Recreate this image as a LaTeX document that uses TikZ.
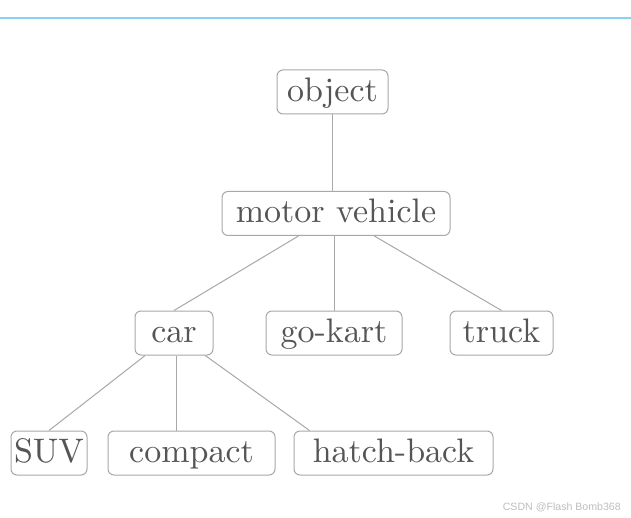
\documentclass[tikz,border=0pt]{standalone}
\usepackage{fontspec}
\newfontfamily\marksans{Liberation Sans}
\newfontfamily\boxfont{lmroman10-regular.otf}
\usetikzlibrary{calc}
\definecolor{boxgray}{HTML}{A8A8A8}
\definecolor{textgray}{HTML}{555555}
\definecolor{rulecyan}{HTML}{87D3F2}
\definecolor{markgray}{HTML}{BDBDBD}

\begin{document}
\begin{tikzpicture}[
  x=1pt, y=-1pt,
  box/.style={rectangle, rounded corners=6pt, draw=boxgray, line width=1pt,
              minimum height=44pt, inner sep=0pt, text=textgray,
              text height=25pt, text depth=6pt,
              font=\boxfont\fontsize{34}{40}\selectfont},
  link/.style={draw=boxgray, line width=1pt}
]
  \useasboundingbox (0,0) rectangle (631,518);
  \draw[rulecyan, line width=2pt] (0,18.5) -- (631,18.5);

  % levels of the hierarchy
  \node[box, minimum width=111pt] (obj) at (332.5,92) {object};
  \node[box, minimum width=228pt] (mv) at (336,213.5) {motor vehicle};
  \node[box, minimum width=78pt] (car) at (174,333) {car};
  \node[box, minimum width=136pt] (kart) at (334,333) {go-kart};
  \node[box, minimum width=103pt] (truck) at (501.5,333) {truck};
  \node[box, minimum width=76pt] (suv) at (49,453) {SUV};
  \node[box, minimum width=167pt] (compact) at (191.5,453) {compact};
  \node[box, minimum width=199pt] (hatch) at (393.5,453) {hatch-back};
  \coordinate (cpt) at ($(compact.north west)+(69pt,0)$);

  \draw[link] (obj) -- (obj |- mv.north);
  \draw[link] (mv) -- (car.north);
  \draw[link] (kart.north |- mv.south) -- (kart.north);
  \draw[link] (mv) -- (truck.north);
  \draw[link] (car) -- (suv.north);
  \draw[link] (car.south -| cpt) -- (cpt);
  \draw[link] (car) -- ($(hatch.north west)+(16pt,0)$);

  \node[font=\marksans\fontsize{10.6}{12}\selectfont, text=markgray,
        anchor=east, inner sep=0pt] (mark) at (621,507) {CSDN @Flash Bomb368};
\end{tikzpicture}
\end{document}
